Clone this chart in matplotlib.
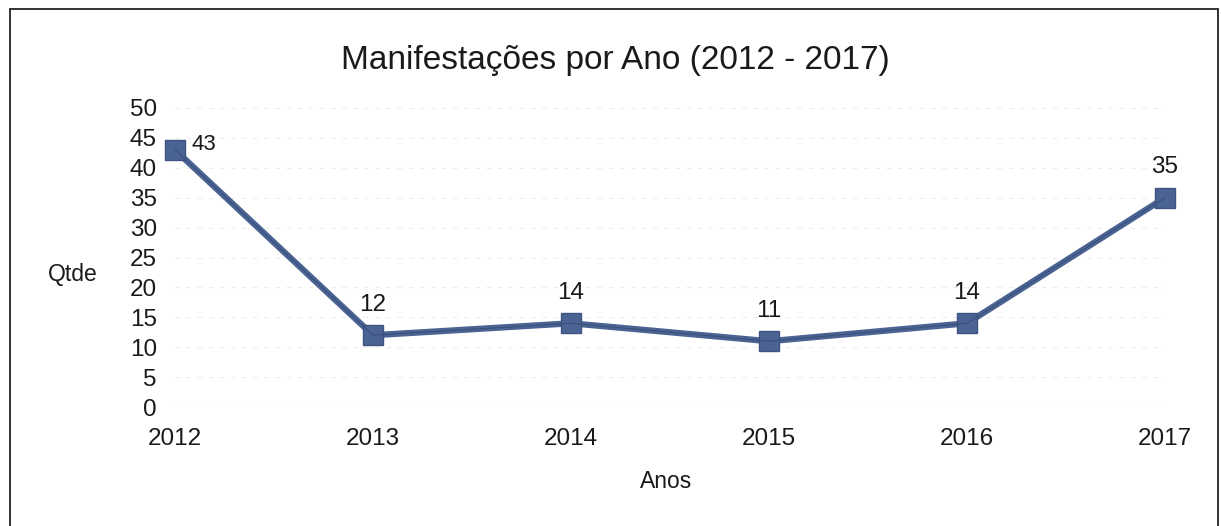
import matplotlib
matplotlib.use('Agg')
import matplotlib.pyplot as plt
from matplotlib.patches import Rectangle

plt.rcParams['font.family'] = ['Liberation Sans', 'DejaVu Sans']

anos = [2012, 2013, 2014, 2015, 2016, 2017]
qtde = [43, 12, 14, 11, 14, 35]
yticks = list(range(0, 51, 5))

W, H = 1221, 526
fig = plt.figure(figsize=(W / 100, H / 100), dpi=100)
fig.patch.set_facecolor('white')

# plot area in pixels: x from 175 to 1165, y from 108 (top) to 407 (bottom)
ax = fig.add_axes([175 / W, (H - 407) / H, (1165 - 175) / W, (407 - 108) / H])
ax.set_xlim(anos[0], anos[-1])
ax.set_ylim(0, 50)

for s in ax.spines.values():
    s.set_visible(False)
ax.set_yticks(yticks)
ax.set_xticks(anos)
ax.tick_params(length=0, labelsize=17.5, colors='#1a1a1a')
ax.tick_params(axis='y', pad=13)
ax.tick_params(axis='x', pad=15)
ax.grid(axis='y', color='#ededed', linestyle=(0, (4, 6)), linewidth=0.8)
ax.set_axisbelow(True)

ax.plot(anos, qtde, color='#4a6392', linewidth=4.5, marker='s', markersize=15,
        markerfacecolor='#4a6392', markeredgecolor='#3d5482', clip_on=False,
        solid_joinstyle='round', zorder=3)
ax.plot(anos, qtde, color='#2f4470', linewidth=0.8, alpha=0.6, zorder=3, clip_on=False)

for i, (a, q) in enumerate(zip(anos, qtde)):
    if i == 0:
        ax.annotate(str(q), (a, q), xytext=(12, 4), textcoords='offset points',
                    ha='left', va='center', fontsize=16, color='#1a1a1a')
    else:
        ax.annotate(str(q), (a, q), xytext=(0, 22), textcoords='offset points',
                    ha='center', va='center', fontsize=17.5, color='#1a1a1a')

fig.text(615 / W, 1 - 60 / H, 'Manifestações por Ano (2012 - 2017)',
         ha='center', va='center', fontsize=24, color='#1a1a1a')
fig.text(73 / W, 1 - 275 / H, 'Qtde', ha='center', va='center', fontsize=16.5, color='#1a1a1a')
fig.text(666 / W, 1 - 481 / H, 'Anos', ha='center', va='center', fontsize=16.5, color='#1a1a1a')

# outer frame, open at the bottom edge
fig.patches.append(Rectangle((9.5 / W, -0.05), (1218 - 9.5) / W, 1.05 - 8.5 / H,
                             transform=fig.transFigure, fill=False,
                             edgecolor='#222222', linewidth=1.3))

fig.savefig('out.png', dpi=100)
